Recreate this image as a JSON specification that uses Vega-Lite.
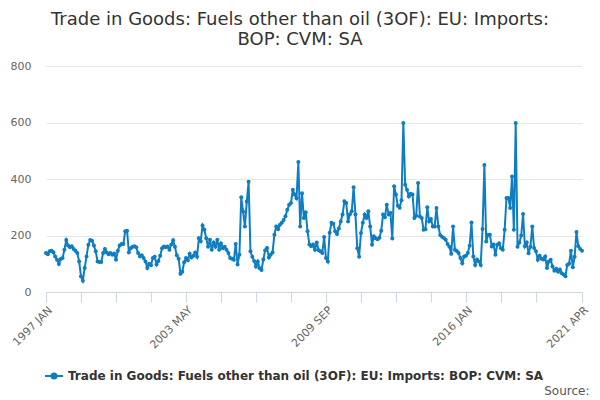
{
  "$schema": "https://vega.github.io/schema/vega-lite/v6.json",
  "autosize": "none",
  "width": 536,
  "height": 226,
  "padding": {"left": 46, "top": 66, "right": 18, "bottom": 108},
  "background": "white",
  "title": {
    "text": ["Trade in Goods: Fuels other than oil (3OF): EU: Imports:", "BOP: CVM: SA"],
    "font": "DejaVu Sans",
    "fontSize": 18,
    "fontWeight": "normal",
    "color": "#333333",
    "anchor": "middle",
    "dx": -14,
    "lineHeight": 20,
    "offset": 11
  },
  "data": {
    "values": [
      {"m": "1997 JAN", "v": 138}, {"m": "1997 FEB", "v": 134}, {"m": "1997 MAR", "v": 144}, {"m": "1997 APR", "v": 146}, {"m": "1997 MAY", "v": 141}, {"m": "1997 JUN", "v": 126}, {"m": "1997 JUL", "v": 114}, {"m": "1997 AUG", "v": 99}, {"m": "1997 SEP", "v": 117}, {"m": "1997 OCT", "v": 120}, {"m": "1997 NOV", "v": 150}, {"m": "1997 DEC", "v": 184},
      {"m": "1998 JAN", "v": 165}, {"m": "1998 FEB", "v": 158}, {"m": "1998 MAR", "v": 162}, {"m": "1998 APR", "v": 152}, {"m": "1998 MAY", "v": 146}, {"m": "1998 JUN", "v": 138}, {"m": "1998 JUL", "v": 108}, {"m": "1998 AUG", "v": 55}, {"m": "1998 SEP", "v": 40}, {"m": "1998 OCT", "v": 85}, {"m": "1998 NOV", "v": 126}, {"m": "1998 DEC", "v": 167},
      {"m": "1999 JAN", "v": 184}, {"m": "1999 FEB", "v": 181}, {"m": "1999 MAR", "v": 165}, {"m": "1999 APR", "v": 144}, {"m": "1999 MAY", "v": 108}, {"m": "1999 JUN", "v": 106}, {"m": "1999 JUL", "v": 106}, {"m": "1999 AUG", "v": 138}, {"m": "1999 SEP", "v": 152}, {"m": "1999 OCT", "v": 140}, {"m": "1999 NOV", "v": 134}, {"m": "1999 DEC", "v": 138},
      {"m": "2000 JAN", "v": 132}, {"m": "2000 FEB", "v": 136}, {"m": "2000 MAR", "v": 114}, {"m": "2000 APR", "v": 146}, {"m": "2000 MAY", "v": 165}, {"m": "2000 JUN", "v": 170}, {"m": "2000 JUL", "v": 170}, {"m": "2000 AUG", "v": 215}, {"m": "2000 SEP", "v": 217}, {"m": "2000 OCT", "v": 140}, {"m": "2000 NOV", "v": 155}, {"m": "2000 DEC", "v": 160},
      {"m": "2001 JAN", "v": 162}, {"m": "2001 FEB", "v": 158}, {"m": "2001 MAR", "v": 138}, {"m": "2001 APR", "v": 126}, {"m": "2001 MAY", "v": 130}, {"m": "2001 JUN", "v": 120}, {"m": "2001 JUL", "v": 108}, {"m": "2001 AUG", "v": 85}, {"m": "2001 SEP", "v": 100}, {"m": "2001 OCT", "v": 95}, {"m": "2001 NOV", "v": 120}, {"m": "2001 DEC", "v": 125},
      {"m": "2002 JAN", "v": 97}, {"m": "2002 FEB", "v": 110}, {"m": "2002 MAR", "v": 128}, {"m": "2002 APR", "v": 155}, {"m": "2002 MAY", "v": 161}, {"m": "2002 JUN", "v": 158}, {"m": "2002 JUL", "v": 161}, {"m": "2002 AUG", "v": 150}, {"m": "2002 SEP", "v": 168}, {"m": "2002 OCT", "v": 183}, {"m": "2002 NOV", "v": 160}, {"m": "2002 DEC", "v": 130},
      {"m": "2003 JAN", "v": 118}, {"m": "2003 FEB", "v": 65}, {"m": "2003 MAR", "v": 72}, {"m": "2003 APR", "v": 105}, {"m": "2003 MAY", "v": 120}, {"m": "2003 JUN", "v": 112}, {"m": "2003 JUL", "v": 135}, {"m": "2003 AUG", "v": 122}, {"m": "2003 SEP", "v": 128}, {"m": "2003 OCT", "v": 140}, {"m": "2003 NOV", "v": 125}, {"m": "2003 DEC", "v": 190},
      {"m": "2004 JAN", "v": 180}, {"m": "2004 FEB", "v": 235}, {"m": "2004 MAR", "v": 220}, {"m": "2004 APR", "v": 190}, {"m": "2004 MAY", "v": 160}, {"m": "2004 JUN", "v": 185}, {"m": "2004 JUL", "v": 150}, {"m": "2004 AUG", "v": 175}, {"m": "2004 SEP", "v": 160}, {"m": "2004 OCT", "v": 185}, {"m": "2004 NOV", "v": 150}, {"m": "2004 DEC", "v": 172},
      {"m": "2005 JAN", "v": 155}, {"m": "2005 FEB", "v": 160}, {"m": "2005 MAR", "v": 150}, {"m": "2005 APR", "v": 138}, {"m": "2005 MAY", "v": 120}, {"m": "2005 JUN", "v": 118}, {"m": "2005 JUL", "v": 114}, {"m": "2005 AUG", "v": 170}, {"m": "2005 SEP", "v": 97}, {"m": "2005 OCT", "v": 132}, {"m": "2005 NOV", "v": 335}, {"m": "2005 DEC", "v": 285},
      {"m": "2006 JAN", "v": 232}, {"m": "2006 FEB", "v": 320}, {"m": "2006 MAR", "v": 390}, {"m": "2006 APR", "v": 144}, {"m": "2006 MAY", "v": 125}, {"m": "2006 JUN", "v": 110}, {"m": "2006 JUL", "v": 90}, {"m": "2006 AUG", "v": 108}, {"m": "2006 SEP", "v": 84}, {"m": "2006 OCT", "v": 78}, {"m": "2006 NOV", "v": 115}, {"m": "2006 DEC", "v": 148},
      {"m": "2007 JAN", "v": 156}, {"m": "2007 FEB", "v": 122}, {"m": "2007 MAR", "v": 132}, {"m": "2007 APR", "v": 140}, {"m": "2007 MAY", "v": 203}, {"m": "2007 JUN", "v": 232}, {"m": "2007 JUL", "v": 222}, {"m": "2007 AUG", "v": 238}, {"m": "2007 SEP", "v": 245}, {"m": "2007 OCT", "v": 255}, {"m": "2007 NOV", "v": 268}, {"m": "2007 DEC", "v": 291},
      {"m": "2008 JAN", "v": 309}, {"m": "2008 FEB", "v": 315}, {"m": "2008 MAR", "v": 362}, {"m": "2008 APR", "v": 345}, {"m": "2008 MAY", "v": 332}, {"m": "2008 JUN", "v": 460}, {"m": "2008 JUL", "v": 232}, {"m": "2008 AUG", "v": 350}, {"m": "2008 SEP", "v": 262}, {"m": "2008 OCT", "v": 282}, {"m": "2008 NOV", "v": 215}, {"m": "2008 DEC", "v": 168},
      {"m": "2009 JAN", "v": 162}, {"m": "2009 FEB", "v": 168}, {"m": "2009 MAR", "v": 150}, {"m": "2009 APR", "v": 175}, {"m": "2009 MAY", "v": 148}, {"m": "2009 JUN", "v": 144}, {"m": "2009 JUL", "v": 138}, {"m": "2009 AUG", "v": 195}, {"m": "2009 SEP", "v": 120}, {"m": "2009 OCT", "v": 108}, {"m": "2009 NOV", "v": 210}, {"m": "2009 DEC", "v": 245},
      {"m": "2010 JAN", "v": 242}, {"m": "2010 FEB", "v": 215}, {"m": "2010 MAR", "v": 205}, {"m": "2010 APR", "v": 225}, {"m": "2010 MAY", "v": 250}, {"m": "2010 JUN", "v": 274}, {"m": "2010 JUL", "v": 321}, {"m": "2010 AUG", "v": 315}, {"m": "2010 SEP", "v": 250}, {"m": "2010 OCT", "v": 275}, {"m": "2010 NOV", "v": 286}, {"m": "2010 DEC", "v": 371},
      {"m": "2011 JAN", "v": 274}, {"m": "2011 FEB", "v": 155}, {"m": "2011 MAR", "v": 125}, {"m": "2011 APR", "v": 209}, {"m": "2011 MAY", "v": 245}, {"m": "2011 JUN", "v": 274}, {"m": "2011 JUL", "v": 262}, {"m": "2011 AUG", "v": 286}, {"m": "2011 SEP", "v": 232}, {"m": "2011 OCT", "v": 167}, {"m": "2011 NOV", "v": 197}, {"m": "2011 DEC", "v": 190},
      {"m": "2012 JAN", "v": 187}, {"m": "2012 FEB", "v": 192}, {"m": "2012 MAR", "v": 217}, {"m": "2012 APR", "v": 274}, {"m": "2012 MAY", "v": 265}, {"m": "2012 JUN", "v": 309}, {"m": "2012 JUL", "v": 274}, {"m": "2012 AUG", "v": 280}, {"m": "2012 SEP", "v": 189}, {"m": "2012 OCT", "v": 374}, {"m": "2012 NOV", "v": 345}, {"m": "2012 DEC", "v": 305},
      {"m": "2013 JAN", "v": 298}, {"m": "2013 FEB", "v": 325}, {"m": "2013 MAR", "v": 598}, {"m": "2013 APR", "v": 380}, {"m": "2013 MAY", "v": 362}, {"m": "2013 JUN", "v": 338}, {"m": "2013 JUL", "v": 348}, {"m": "2013 AUG", "v": 345}, {"m": "2013 SEP", "v": 262}, {"m": "2013 OCT", "v": 270}, {"m": "2013 NOV", "v": 386}, {"m": "2013 DEC", "v": 267},
      {"m": "2014 JAN", "v": 262}, {"m": "2014 FEB", "v": 220}, {"m": "2014 MAR", "v": 222}, {"m": "2014 APR", "v": 300}, {"m": "2014 MAY", "v": 250}, {"m": "2014 JUN", "v": 258}, {"m": "2014 JUL", "v": 232}, {"m": "2014 AUG", "v": 232}, {"m": "2014 SEP", "v": 297}, {"m": "2014 OCT", "v": 232}, {"m": "2014 NOV", "v": 202}, {"m": "2014 DEC", "v": 196},
      {"m": "2015 JAN", "v": 191}, {"m": "2015 FEB", "v": 185}, {"m": "2015 MAR", "v": 170}, {"m": "2015 APR", "v": 160}, {"m": "2015 MAY", "v": 135}, {"m": "2015 JUN", "v": 232}, {"m": "2015 JUL", "v": 150}, {"m": "2015 AUG", "v": 145}, {"m": "2015 SEP", "v": 138}, {"m": "2015 OCT", "v": 120}, {"m": "2015 NOV", "v": 102}, {"m": "2015 DEC", "v": 126},
      {"m": "2016 JAN", "v": 128}, {"m": "2016 FEB", "v": 138}, {"m": "2016 MAR", "v": 164}, {"m": "2016 APR", "v": 246}, {"m": "2016 MAY", "v": 126}, {"m": "2016 JUN", "v": 96}, {"m": "2016 JUL", "v": 115}, {"m": "2016 AUG", "v": 108}, {"m": "2016 SEP", "v": 96}, {"m": "2016 OCT", "v": 223}, {"m": "2016 NOV", "v": 450}, {"m": "2016 DEC", "v": 179},
      {"m": "2017 JAN", "v": 203}, {"m": "2017 FEB", "v": 203}, {"m": "2017 MAR", "v": 161}, {"m": "2017 APR", "v": 168}, {"m": "2017 MAY", "v": 132}, {"m": "2017 JUN", "v": 167}, {"m": "2017 JUL", "v": 173}, {"m": "2017 AUG", "v": 155}, {"m": "2017 SEP", "v": 150}, {"m": "2017 OCT", "v": 220}, {"m": "2017 NOV", "v": 333}, {"m": "2017 DEC", "v": 333},
      {"m": "2018 JAN", "v": 297}, {"m": "2018 FEB", "v": 409}, {"m": "2018 MAR", "v": 220}, {"m": "2018 APR", "v": 598}, {"m": "2018 MAY", "v": 160}, {"m": "2018 JUN", "v": 175}, {"m": "2018 JUL", "v": 200}, {"m": "2018 AUG", "v": 276}, {"m": "2018 SEP", "v": 162}, {"m": "2018 OCT", "v": 175}, {"m": "2018 NOV", "v": 137}, {"m": "2018 DEC", "v": 160},
      {"m": "2019 JAN", "v": 232}, {"m": "2019 FEB", "v": 156}, {"m": "2019 MAR", "v": 144}, {"m": "2019 APR", "v": 114}, {"m": "2019 MAY", "v": 128}, {"m": "2019 JUN", "v": 118}, {"m": "2019 JUL", "v": 115}, {"m": "2019 AUG", "v": 126}, {"m": "2019 SEP", "v": 85}, {"m": "2019 OCT", "v": 108}, {"m": "2019 NOV", "v": 114}, {"m": "2019 DEC", "v": 90},
      {"m": "2020 JAN", "v": 75}, {"m": "2020 FEB", "v": 82}, {"m": "2020 MAR", "v": 72}, {"m": "2020 APR", "v": 80}, {"m": "2020 MAY", "v": 66}, {"m": "2020 JUN", "v": 62}, {"m": "2020 JUL", "v": 56}, {"m": "2020 AUG", "v": 96}, {"m": "2020 SEP", "v": 100}, {"m": "2020 OCT", "v": 146}, {"m": "2020 NOV", "v": 88}, {"m": "2020 DEC", "v": 125},
      {"m": "2021 JAN", "v": 212}, {"m": "2021 FEB", "v": 162}, {"m": "2021 MAR", "v": 152}, {"m": "2021 APR", "v": 146}
    ]
  },
  "mark": {
    "type": "line",
    "strokeWidth": 2,
    "point": {"filled": true, "size": 16}
  },
  "encoding": {
    "x": {
      "field": "m",
      "type": "ordinal",
      "sort": null,
      "scale": {"type": "point", "padding": 0},
      "axis": {
        "values": ["1997 JAN", "1998 AUG", "2000 MAR", "2001 OCT", "2003 MAY", "2004 DEC", "2006 JUL", "2008 FEB", "2009 SEP", "2011 APR", "2012 NOV", "2014 JUN", "2016 JAN", "2017 AUG", "2019 MAR", "2021 APR"],
        "labelExpr": "indexof(['1997 JAN', '2003 MAY', '2009 SEP', '2016 JAN', '2021 APR'], datum.value) >= 0 ? datum.value : ''",
        "labelAngle": -45,
        "labelAlign": "right",
        "labelBaseline": "top",
        "labelFont": "DejaVu Sans",
        "labelFontSize": 11,
        "labelColor": "#666666",
        "labelPadding": 2,
        "labelOverlap": false,
        "labelBound": false,
        "labelFlush": false,
        "tickSize": 10,
        "tickColor": "#ccd6eb",
        "domainColor": "#ccd6eb",
        "grid": false,
        "title": "Source:",
        "titleFont": "DejaVu Sans",
        "titleFontSize": 12,
        "titleFontWeight": "normal",
        "titleColor": "#555555",
        "titleAlign": "right",
        "titleAnchor": null,
        "titleX": 543,
        "titleY": 98,
        "titleBaseline": "middle"
      }
    },
    "y": {
      "field": "v",
      "type": "quantitative",
      "scale": {"domain": [0, 800]},
      "axis": {
        "values": [0, 200, 400, 600, 800],
        "title": null,
        "domain": false,
        "ticks": false,
        "labelFont": "DejaVu Sans",
        "labelFontSize": 11,
        "labelColor": "#666666",
        "labelPadding": 15,
        "gridColor": "#e6e6e6"
      }
    },
    "color": {
      "datum": "Trade in Goods: Fuels other than oil (3OF): EU: Imports: BOP: CVM: SA",
      "type": "nominal",
      "scale": {"range": ["#0f7dc2"]},
      "legend": {
        "title": null,
        "orient": "none",
        "legendX": -2,
        "legendY": 300,
        "symbolType": "M-1,0L1,0M-0.28,0A0.28,0.28,0,1,1,0.28,0A0.28,0.28,0,1,1,-0.28,0Z",
        "symbolSize": 324,
        "symbolStrokeWidth": 2,
        "symbolFillColor": "#0f7dc2",
        "labelFont": "DejaVu Sans",
        "labelFontSize": 12,
        "labelFontWeight": "bold",
        "labelColor": "#333333",
        "labelLimit": 0,
        "labelOffset": 4
      }
    }
  },
  "config": {
    "view": {"stroke": null}
  }
}
